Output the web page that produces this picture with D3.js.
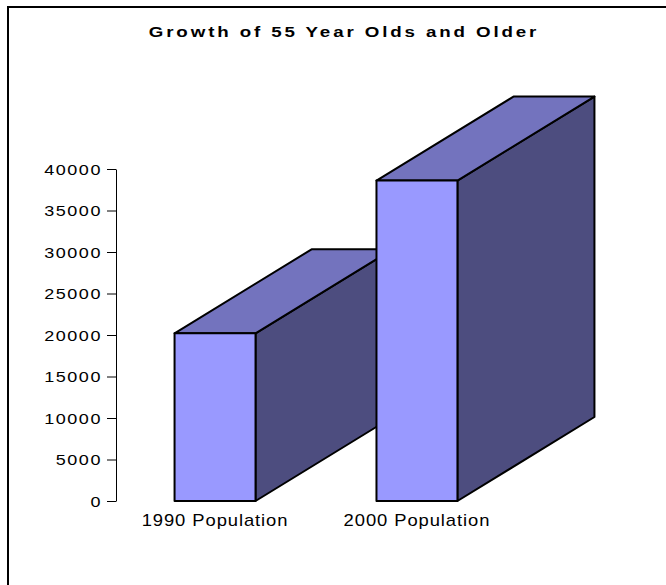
<!DOCTYPE html>
<html>
<head>
<meta charset="utf-8">
<script src="https://cdn.jsdelivr.net/npm/d3@7"></script>
<style>
  html, body { margin: 0; padding: 0; background: #fff; }
  svg { display: block; }
  text { font-family: "Liberation Sans", Arial, sans-serif; fill: #000; }
</style>
</head>
<body>
<div id="chart"></div>
<script>
// ---- data ----
const title = "Growth of 55 Year Olds and Older";
const categories = ["1990 Population", "2000 Population"];
const values = [20200, 38600];
const tickValues = [0, 5000, 10000, 15000, 20000, 25000, 30000, 35000, 40000];

// ---- layout ----
const W = 666, H = 585;
const svg = d3.select("#chart").append("svg").attr("width", W).attr("height", H);

// outer frame (right/bottom edges fall outside the picture)
svg.append("rect")
  .attr("x", 8).attr("y", 7).attr("width", 700).attr("height", 700)
  .attr("fill", "#fff").attr("stroke", "#000").attr("stroke-width", 2);

// horizontally stretched text helper (mimics the wide rendering of the original)
function wideText(sel, x, y, str, opts) {
  const g = sel.append("g").attr("transform", `translate(${x},${y}) scale(${opts.sx},1)`);
  return g.append("text")
    .attr("x", 0).attr("y", 0)
    .attr("text-anchor", opts.anchor || "middle")
    .attr("font-size", opts.size)
    .attr("font-weight", opts.weight || "normal")
    .attr("letter-spacing", opts.ls || 0)
    .text(str);
}

wideText(svg, 344, 37, title, { sx: 1.25, size: 15, weight: "bold", ls: 2.3 });

const axisX = 116;
const y = d3.scaleLinear().domain([0, 40000]).range([501, 169]);
const x = d3.scaleBand().domain(categories).range([axisX, 516])
  .paddingInner(0.599).paddingOuter(0.29);

const depthX = 137, depthY = 84;
const colFront = "#9999FF", colTop = "#7373BE", colSide = "#4D4D7F";

const bars = svg.append("g");
categories.forEach((c, i) => {
  const x0 = x(c), x1 = x0 + x.bandwidth();
  const yt = y(values[i]), yb = y(0);
  const g = bars.append("g")
    .attr("stroke", "#000").attr("stroke-width", 2).attr("stroke-linejoin", "round");
  g.append("path").attr("fill", colSide)
    .attr("d", `M${x1},${yb}L${x1},${yt}L${x1 + depthX},${yt - depthY}L${x1 + depthX},${yb - depthY}Z`);
  g.append("path").attr("fill", colTop)
    .attr("d", `M${x0},${yt}L${x0 + depthX},${yt - depthY}L${x1 + depthX},${yt - depthY}L${x1},${yt}Z`);
  g.append("rect").attr("fill", colFront)
    .attr("x", x0).attr("y", yt).attr("width", x.bandwidth()).attr("height", yb - yt);
});

// y axis (line + ticks from d3 axis, labels stretched)
const yAxis = svg.append("g")
  .attr("transform", `translate(${axisX},0)`)
  .call(d3.axisLeft(y).tickValues(tickValues).tickSize(9).tickSizeOuter(0).tickFormat(() => ""));
yAxis.select(".domain").attr("stroke", "#000").attr("stroke-width", 1);
yAxis.selectAll(".tick line").attr("stroke", "#000").attr("stroke-width", 1);
const tickLabels = svg.append("g");
tickValues.forEach(v => {
  wideText(tickLabels, axisX - 14, y(v) + 5.5, d3.format("d")(v), { sx: 1.2, size: 15, anchor: "end", ls: 1.3 });
});

// category labels
categories.forEach(c => {
  wideText(svg, x(c) + x.bandwidth() / 2, 526, c, { sx: 1.15, size: 16, ls: 0.8 });
});
</script>
</body>
</html>
